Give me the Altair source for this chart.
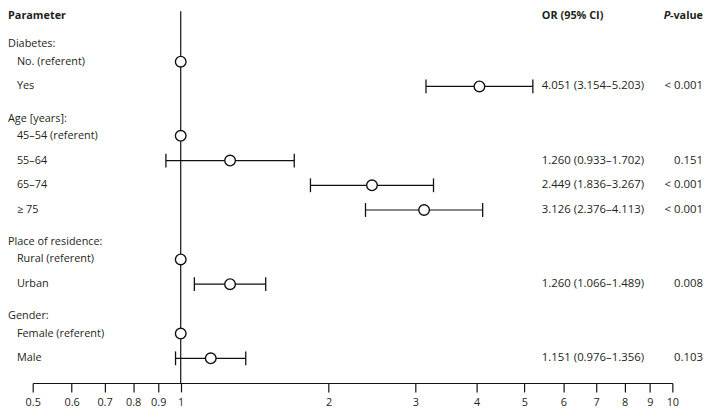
import altair as alt
import pandas as pd

# ---- data ----
header_labels = ["Diabetes:", "Age [years]:", "Place of residence:", "Gender:"]
header_slots = [0.3, 3.3, 8.3, 11.3]

item_labels = ["No. (referent)", "Yes", "45–54 (referent)", "55–64", "65–74", "≥ 75",
               "Rural (referent)", "Urban", "Female (referent)", "Male"]
item_slots = [1, 2, 4, 5, 6, 7, 9, 10, 12, 13]
or_vals = [1, 4.051, 1, 1.260, 2.449, 3.126, 1, 1.260, 1, 1.151]
ci_lo = [None, 3.154, None, 0.933, 1.836, 2.376, None, 1.066, None, 0.976]
ci_hi = [None, 5.203, None, 1.702, 3.267, 4.113, None, 1.489, None, 1.356]
or_text = ["", "4.051 (3.154–5.203)", "", "1.260 (0.933–1.702)", "2.449 (1.836–3.267)",
           "3.126 (2.376–4.113)", "", "1.260 (1.066–1.489)", "", "1.151 (0.976–1.356)"]
p_text = ["", "< 0.001", "", "0.151", "< 0.001", "< 0.001", "", "0.008", "", "0.103"]

tick_values = [0.5, 0.6, 0.7, 0.8, 0.9, 1, 2, 3, 4, 5, 6, 7, 8, 9, 10]
ref_value = 1
header_slot = -0.85
line_top_slot = -1.04
axis_slot = 14

FONT = "Open Sans"
TXT = "#231f20"
INK = "#111111"

items = pd.DataFrame({
    "label": item_labels, "slot": item_slots, "or": or_vals,
    "lo": ci_lo, "hi": ci_hi, "or_text": or_text, "p": p_text,
})
ci = items.dropna(subset=["lo"])
headers = pd.DataFrame({"label": header_labels, "slot": header_slots})
top = pd.DataFrame({"slot": [header_slot],
                    "a": ["Parameter"], "b": ["OR (95% CI)"], "c": ["P"], "d": ["-value"]})
refline = pd.DataFrame({"x": [ref_value], "y": [line_top_slot], "y2": [axis_slot]})

xscale = alt.Scale(type="log", domain=[0.5, 10], range=[25, 672])
yscale = alt.Scale(domain=[0, 16], range=[27, 427])

xaxis = alt.Axis(values=tick_values, format="~g", title=None, grid=False,
                 domainColor=INK, domainWidth=1.2, tickColor=INK, tickWidth=1.2,
                 tickSize=9, labelFont=FONT, labelFontSize=11, labelColor=TXT,
                 labelPadding=5, labelFlush=False, labelOverlap=False)

ref = alt.Chart(refline).mark_rule(color=INK, strokeWidth=1.2).encode(
    x=alt.X("x:Q", scale=xscale, axis=xaxis),
    y=alt.Y("y:Q", scale=yscale, axis=None),
    y2="y2:Q",
)

ci_line = alt.Chart(ci).mark_rule(color=INK, strokeWidth=1.2).encode(
    x=alt.X("lo:Q", scale=xscale),
    x2="hi:Q",
    y=alt.Y("slot:Q", scale=yscale),
)
cap_lo = alt.Chart(ci).mark_tick(orient="vertical", color=INK, thickness=1.3, size=14, opacity=1).encode(
    x=alt.X("lo:Q", scale=xscale),
    y=alt.Y("slot:Q", scale=yscale),
)
cap_hi = alt.Chart(ci).mark_tick(orient="vertical", color=INK, thickness=1.3, size=14, opacity=1).encode(
    x=alt.X("hi:Q", scale=xscale),
    y=alt.Y("slot:Q", scale=yscale),
)
points = alt.Chart(items).mark_point(shape="circle", fill="white", stroke=INK,
                                     strokeWidth=1.4, size=115, opacity=1, filled=True).encode(
    x=alt.X("or:Q", scale=xscale),
    y=alt.Y("slot:Q", scale=yscale),
)

txt = dict(font=FONT, fontSize=11, color=TXT, baseline="middle")
num = dict(font=FONT, fontSize=11.5, color=TXT, baseline="middle")
head_txt = alt.Chart(headers).mark_text(align="left", **txt).encode(
    x=alt.value(0), y=alt.Y("slot:Q", scale=yscale), text="label:N")
item_txt = alt.Chart(items).mark_text(align="left", **txt).encode(
    x=alt.value(9), y=alt.Y("slot:Q", scale=yscale), text="label:N")
or_txt = alt.Chart(items).mark_text(align="left", **num).encode(
    x=alt.value(540), y=alt.Y("slot:Q", scale=yscale), text="or_text:N")
p_txt = alt.Chart(items).mark_text(align="right", **num).encode(
    x=alt.value(703), y=alt.Y("slot:Q", scale=yscale), text="p:N")

bold = dict(font=FONT, fontSize=11, color=TXT, baseline="middle", fontWeight="bold")
t_a = alt.Chart(top).mark_text(align="left", **bold).encode(
    x=alt.value(0), y=alt.Y("slot:Q", scale=yscale), text="a:N")
t_b = alt.Chart(top).mark_text(align="left", **bold).encode(
    x=alt.value(540), y=alt.Y("slot:Q", scale=yscale), text="b:N")
t_c = alt.Chart(top).mark_text(align="right", fontStyle="italic", **bold).encode(
    x=alt.value(670), y=alt.Y("slot:Q", scale=yscale), text="c:N")
t_d = alt.Chart(top).mark_text(align="right", **bold).encode(
    x=alt.value(703), y=alt.Y("slot:Q", scale=yscale), text="d:N")

chart = alt.layer(
    ref, ci_line, cap_lo, cap_hi, points,
    head_txt, item_txt, or_txt, p_txt, t_a, t_b, t_c, t_d,
).properties(
    width=704, height=377,
    autosize=alt.AutoSizeParams(type="none"),
    padding={"left": 0, "top": 0, "right": 0, "bottom": 27},
    background="white",
).configure_view(stroke=None)

chart.save("out.html", embed_options={"renderer": "svg", "actions": False})
